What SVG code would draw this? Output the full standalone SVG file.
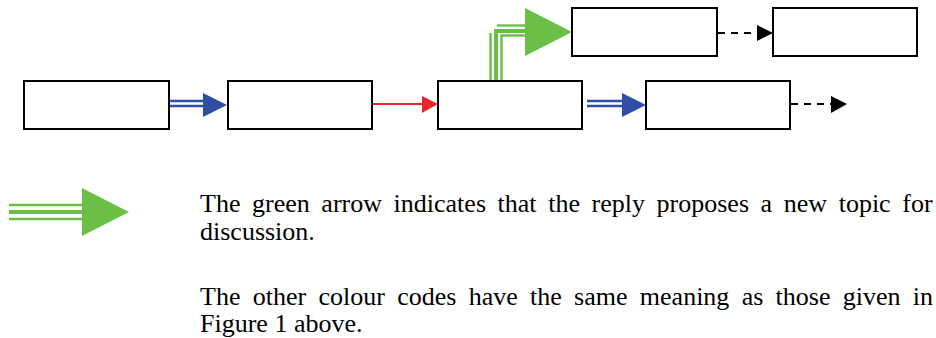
<svg xmlns="http://www.w3.org/2000/svg" width="936" height="338" viewBox="0 0 936 338">
<style>
.box{fill:#fff;stroke:#000;stroke-width:2}
.blue{stroke:#2e4ea4;stroke-width:2.4;fill:none}
.blueh{fill:#2e4ea4}
.green{stroke:#6bbf47;stroke-width:2.4;fill:none}
.greenm{stroke:#6bbf47;stroke-width:4;fill:none}
.greenh{fill:#6bbf47}
.dash{stroke:#000;stroke-width:2;stroke-dasharray:7,6;fill:none}
.txt{font-family:"Liberation Serif","Times New Roman",serif;font-size:26px;fill:#000}
</style>
<rect width="936" height="338" fill="#fff"/>
<g id="connectors">
  <line class="blue" x1="169" y1="101" x2="205" y2="101"/>
  <line class="blue" x1="169" y1="106" x2="205" y2="106"/>
  <polygon class="blueh" points="203,93 227,105 203,117"/>
  <line x1="372" y1="104" x2="424" y2="104" stroke="#e8262a" stroke-width="2"/>
  <polygon points="422,96 438,104 422,113" fill="#e8262a"/>
  <line class="blue" x1="587" y1="101" x2="624" y2="101"/>
  <line class="blue" x1="587" y1="106" x2="624" y2="106"/>
  <polygon class="blueh" points="622,93 646,105 622,117"/>
  <line class="green" x1="490.5" y1="33" x2="490.5" y2="80"/>
  <polyline class="greenm" points="496,80 496,31 527,31"/>
  <line class="green" x1="497" y1="25.5" x2="527" y2="25.5"/>
  <polyline class="green" points="501.5,80 501.5,35.5 527,35.5"/>
  <polygon class="greenh" points="525,8 572,32 525,56"/>
  <line class="dash" x1="718" y1="33" x2="757" y2="33"/>
  <polygon points="757,25 773,33 757,41" fill="#000"/>
  <line class="dash" x1="791" y1="104" x2="831" y2="104"/>
  <polygon points="831,96 847,104 831,113" fill="#000"/>
</g>
<g id="n1"><rect class="box" x="24" y="81" width="145" height="48"/></g>
<g id="n2"><rect class="box" x="228" y="81" width="144" height="48"/></g>
<g id="n3"><rect class="box" x="438" y="81" width="144" height="48"/></g>
<g id="n4"><rect class="box" x="646" y="81" width="144" height="48"/></g>
<g id="n5"><rect class="box" x="572" y="8" width="145" height="48"/></g>
<g id="n6"><rect class="box" x="773" y="8" width="144" height="48"/></g>
<g id="legend">
  <line class="green" x1="9" y1="205" x2="84" y2="205"/>
  <line class="greenm" x1="9" y1="212" x2="84" y2="212"/>
  <line class="green" x1="9" y1="219" x2="84" y2="219"/>
  <polygon class="greenh" points="82,188 129,212 82,236"/>
  <text class="txt" x="200" y="212" word-spacing="5.1">The green arrow indicates that the reply proposes a new topic for</text>
  <text class="txt" x="200" y="240">discussion.</text>
  <text class="txt" x="200" y="305" word-spacing="5.8">The other colour codes have the same meaning as those given in</text>
  <text class="txt" x="200" y="332">Figure 1 above.</text>
</g>
</svg>
